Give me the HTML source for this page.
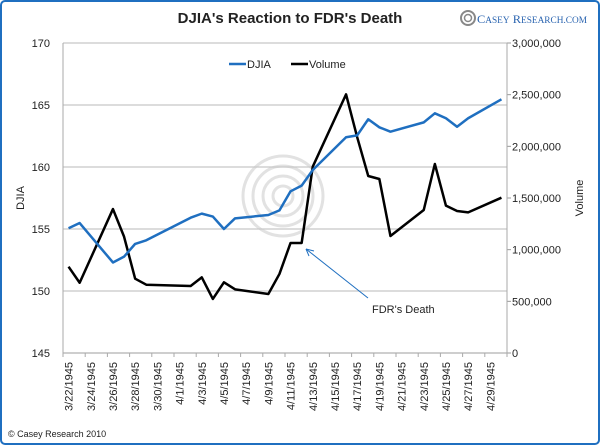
<!DOCTYPE html>
<html><head><meta charset="utf-8"><style>
body{margin:0;background:#fff;}
svg{display:block;font-family:"Liberation Sans",sans-serif;}
</style></head><body>
<svg width="600" height="445" viewBox="0 0 600 445">
<rect x="1" y="1" width="598" height="443" rx="4" fill="#fff" stroke="#1f6fc0" stroke-width="2"/>
<text x="290" y="23" text-anchor="middle" font-size="15" font-weight="bold" fill="#222">DJIA's Reaction to FDR's Death</text>
<g>
<circle cx="468" cy="18" r="7" fill="none" stroke="#888" stroke-width="2"/>
<circle cx="468" cy="18" r="3.5" fill="none" stroke="#888" stroke-width="1.5"/>
<text x="477" y="23" font-family="Liberation Serif,serif" font-size="12" fill="#2a64b0" textLength="110" lengthAdjust="spacingAndGlyphs">C<tspan font-size="9">ASEY</tspan> R<tspan font-size="9">ESEARCH.COM</tspan></text>
</g>
<g fill="none" stroke="#e2e2e2" stroke-width="3">
<circle cx="283" cy="196" r="40"/><circle cx="283" cy="196" r="30"/><circle cx="283" cy="196" r="20"/><circle cx="283" cy="196" r="10"/>
</g>
<g id="grid"></g>
<g id="axes"></g>
<g id="series"></g>
<text transform="translate(24,198) rotate(-90)" text-anchor="middle" font-size="11" fill="#222">DJIA</text>
<text transform="translate(583,198) rotate(-90)" text-anchor="middle" font-size="11" fill="#222">Volume</text>
<g>
<line x1="229" y1="64" x2="246" y2="64" stroke="#1f6fc0" stroke-width="2.5"/>
<text x="247" y="68" font-size="11" fill="#222">DJIA</text>
<line x1="291" y1="64" x2="308" y2="64" stroke="#000" stroke-width="2.5"/>
<text x="309" y="68" font-size="11" fill="#222">Volume</text>
</g>
<g>
<line x1="368" y1="298" x2="306" y2="249" stroke="#1f6fc0" stroke-width="1"/>
<path d="M306 249 L314 251 M306 249 L309 256" stroke="#1f6fc0" stroke-width="1" fill="none"/>
<text x="372" y="313" font-size="11" fill="#222">FDR's Death</text>
</g>
<text x="8" y="437" font-size="9" fill="#222">© Casey Research 2010</text>
</svg>
<script>
const days=[0,1,4,5,6,7,11,12,13,14,15,18,19,20,21,22,25,26,27,28,29,32,33,34,35,36,39];
const djia=[155.06,155.48,152.3,152.77,153.8,154.09,155.91,156.24,156.0,155.0,155.86,156.13,156.5,158.04,158.5,159.76,162.4,162.55,163.85,163.2,162.85,163.6,164.33,163.93,163.25,163.93,165.46];
const volume=[835000,680000,1393000,1126000,719000,661000,648000,732000,523000,684000,616000,571000,765000,1065000,1065000,1803000,2503000,2090000,1713000,1684000,1132000,1384000,1829000,1426000,1374000,1361000,1503000];
const leftTicks=[145,150,155,160,165,170];
const rightTicks=[0,500000,1000000,1500000,2000000,2500000,3000000];
const NS='http://www.w3.org/2000/svg';
const X0=63,X1=507,Y0=353,Y1=43,NDAYS=40;
const dw=(X1-X0)/NDAYS;
const xs=d=>X0+dw*(d+0.5);
const yl=v=>Y0-(v-145)/25*(Y0-Y1);
const yr=v=>Y0-v/3000000*(Y0-Y1);
function mk(tag,attrs,parent){const e=document.createElementNS(NS,tag);for(const k in attrs)e.setAttribute(k,attrs[k]);parent.appendChild(e);return e;}
const grid=document.getElementById('grid'),axes=document.getElementById('axes'),series=document.getElementById('series');
leftTicks.forEach(v=>{
  const g=mk('line',{x1:X0,x2:X1,y1:yl(v),y2:yl(v),stroke:'#c8c8c8','stroke-width':1.2},grid);
  
  
  const t=mk('text',{x:50,y:yl(v)+4,'text-anchor':'end','font-size':11,fill:'#222'},axes);
  t.textContent=v;
  
  
});
rightTicks.forEach(v=>{
  mk('line',{x1:X1,x2:X1+4,y1:yr(v),y2:yr(v),stroke:'#999'},axes);
  const t=mk('text',{x:512,y:yr(v)+4,'font-size':11,fill:'#222'},axes);
  t.textContent=v.toLocaleString('en-US');
  
  
});
mk('line',{x1:X0,x2:X0,y1:Y1,y2:Y0,stroke:'#aaa'},axes);
mk('line',{x1:X1,x2:X1,y1:Y1,y2:Y0,stroke:'#aaa'},axes);
mk('line',{x1:X0,x2:X1,y1:Y0,y2:Y0,stroke:'#aaa'},axes);
for(let d=0;d<=NDAYS;d+=2){mk('line',{x1:X0+dw*d,x2:X0+dw*d,y1:Y0,y2:Y0+4,stroke:'#aaa'},axes);}
for(let d=0;d<NDAYS;d+=2){
  const dt=new Date(1945,2,22+d);
  const lbl=(dt.getMonth()+1)+'/'+dt.getDate()+'/1945';
  const x=xs(d)+4;
  const t=mk('text',{transform:`translate(${x},362) rotate(-90)`,'text-anchor':'end','font-size':11,fill:'#222'},axes);
  t.textContent=lbl;
  
  
}
const vp=mk('polyline',{points:days.map((d,i)=>xs(d)+','+yr(volume[i])).join(' '),fill:'none',stroke:'#000','stroke-width':2.5,'stroke-linejoin':'round'},series);


const dp=mk('polyline',{points:days.map((d,i)=>xs(d)+','+yl(djia[i])).join(' '),fill:'none',stroke:'#1f6fc0','stroke-width':2.5,'stroke-linejoin':'round'},series);


</script>
</body></html>
